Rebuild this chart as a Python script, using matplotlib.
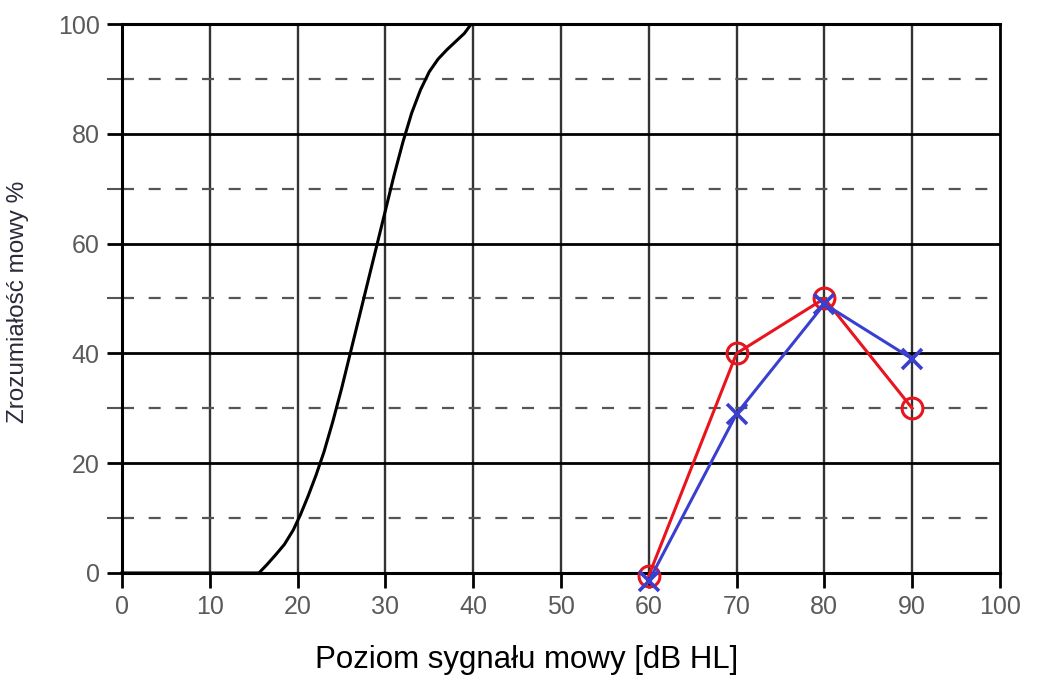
import numpy as np
import matplotlib.pyplot as plt
from matplotlib.ticker import MultipleLocator

plt.rcParams['font.family'] = ['Liberation Sans', 'DejaVu Sans']

# krzywa normatywna
norm_x = [0, 15.6, 16.5, 17.5, 18.5, 19.5, 20.3, 21.2, 22.1, 23.0, 24.0, 25.0, 26.0,
          27.0, 28.0, 29.0, 30.0, 31.0, 32.0, 33.0, 34.0, 35.0, 36.0, 37.0, 38.0, 39.0, 39.6]
norm_y = [0, 0, 1.5, 3.3, 5.2, 7.8, 10.5, 14.0, 17.8, 22.0, 27.5, 33.5, 40.0,
          46.5, 53.0, 59.5, 66.0, 72.5, 78.5, 83.8, 88.0, 91.3, 93.6, 95.3, 96.8, 98.3, 99.6]

# wyniki pomiaru
poziom = [60, 70, 80, 90]
ucho_p = [-0.5, 40, 50, 30]   # czerwone kółka
ucho_l = [-1.5, 29, 49, 39]   # niebieskie krzyżyki

xticks = [0, 10, 20, 30, 40, 50, 60, 70, 80, 90, 100]
yticks = [0, 20, 40, 60, 80, 100]

fig = plt.figure(figsize=(10.37, 6.78), dpi=100)
ax = fig.add_axes([0.1176, 0.1549, 0.8467, 0.8097])

ax.set_xlim(0, 100)
ax.set_ylim(0, 100)

# siatka
for x in xticks[1:-1]:
    ax.axvline(x, color='#333333', lw=1.7, zorder=1)
for y in [20, 40, 60, 80]:
    ax.axhline(y, color='black', lw=2.0, zorder=1)
for y in [10, 30, 50, 70, 90]:
    ax.axhline(y, color='#555555', lw=1.6, ls=(0, (5.4, 6.6)), zorder=1)

ax.plot(norm_x, norm_y, color='black', lw=2.2, zorder=3, clip_on=False)

ax.plot(poziom, ucho_p, color='#e8141e', lw=2.2, marker='o', ms=15, mfc='none',
        mew=2.2, zorder=4, clip_on=False)
ax.plot(poziom, ucho_l, color='#3a3fd0', lw=2.2, marker='x', ms=14,
        mew=2.6, zorder=5, clip_on=False)

for s in ax.spines.values():
    s.set_color('black')
    s.set_linewidth(2.2)
ax.spines['right'].set_linewidth(2.0)

ax.set_xticks(xticks)
ax.set_yticks(yticks)
ax.yaxis.set_minor_locator(MultipleLocator(10))
ax.tick_params(axis='both', which='major', length=11, width=2, color='black',
               labelsize=18, labelcolor='#5a5a5a', pad=5)
ax.tick_params(axis='y', which='minor', length=11, width=1.5, color='#555555')

fig.text(527 / 1037, 1 - 660 / 678, 'Poziom sygnału mowy [dB HL]', fontsize=22.5,
         color='black', ha='center', va='center')
fig.text(18 / 1037, 1 - 302 / 678, 'Zrozumiałość mowy %', fontsize=17.5,
         color='#2a2a3a', ha='center', va='center', rotation=90)

fig.savefig('out.png', dpi=100)
